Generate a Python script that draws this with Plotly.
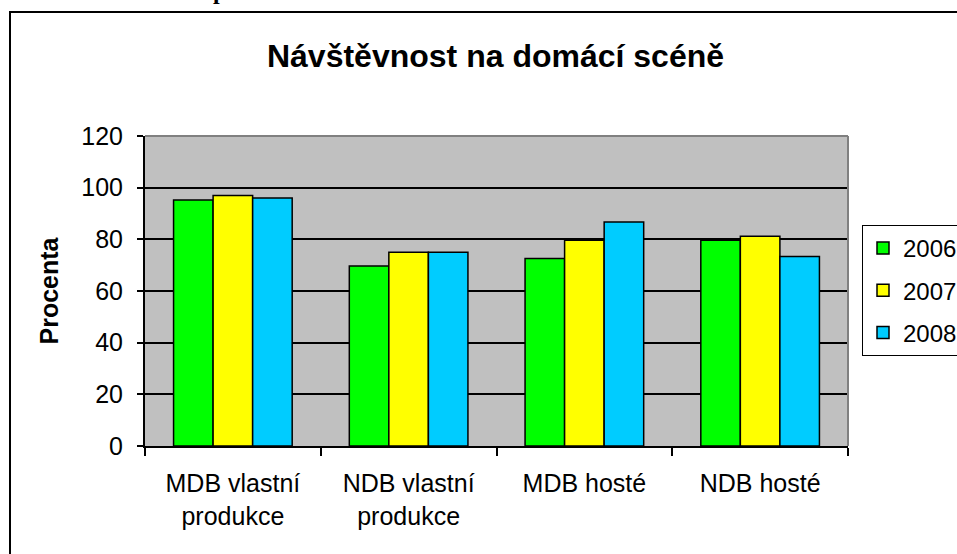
import plotly.graph_objects as go

categories = ["MDB vlastní<br>produkce", "NDB vlastní<br>produkce", "MDB hosté", "NDB hosté"]
years = ["2006", "2007", "2008"]
v2006 = [95.2, 69.7, 72.6, 79.6]
v2007 = [97.0, 75.0, 79.6, 81.2]
v2008 = [96.0, 75.0, 86.7, 73.4]
colors = ["#00ff00", "#ffff00", "#00ccff"]
series = [v2006, v2007, v2008]

W, H = 957, 554
L, R, T, B = 145, 848, 136, 446  # plot area in px

def px_x(x):
    return (x - L) / (R - L)

def px_y(y):
    return (B - y) / (B - T)

fig = go.Figure()
for name, vals, col in zip(years, series, colors):
    fig.add_trace(go.Bar(
        x=categories, y=vals, name=name, legendgroup=name,
        marker=dict(color=col, line=dict(color="black", width=1.5)),
    ))

font = "Arial, Liberation Sans, sans-serif"

fig.update_layout(
    width=W, height=H,
    margin=dict(l=L, r=W - R, t=T, b=H - B, autoexpand=False),
    paper_bgcolor="white",
    plot_bgcolor="#c0c0c0",
    barmode="group",
    bargap=0.325,
    bargroupgap=0,
    font=dict(family=font, size=25, color="black"),
    title=dict(
        text="<b>Návštěvnost na domácí scéně</b>",
        font=dict(family=font, size=32, color="black"),
        x=495.5 / W, xanchor="center", xref="container",
        y=1 - 56 / H, yanchor="middle", yref="container",
    ),
    legend=dict(
        x=px_x(862), xanchor="left",
        y=px_y(225), yanchor="top",
        bordercolor="black", borderwidth=1, bgcolor="white",
        font=dict(family=font, size=24, color="black"),
        tracegroupgap=8,
    ),
    xaxis=dict(
        showline=True, linecolor="black", linewidth=2,
        ticks="outside", tickson="boundaries", ticklen=8, tickwidth=1.5, tickcolor="black",
        showgrid=False,
        ticklabelstandoff=14,
        tickfont=dict(family=font, size=25, color="black"),
    ),
    yaxis=dict(
        range=[0, 120], dtick=20,
        showline=True, linecolor="black", linewidth=2,
        ticks="outside", ticklen=6, tickwidth=1.5, tickcolor="black",
        showgrid=True, gridcolor="black", gridwidth=1.5,
        zeroline=False,
        ticklabelstandoff=9,
        tickfont=dict(family=font, size=25, color="black"),
        title=dict(text="<b>Procenta</b>", font=dict(family=font, size=25, color="black"), standoff=16),
    ),
    showlegend=True,
)

shapes = [
    # plot area top and right borders (gray)
    dict(type="line", xref="paper", yref="paper", x0=0, x1=1, y0=1, y1=1,
         line=dict(color="#808080", width=2), layer="above"),
    dict(type="line", xref="paper", yref="paper", x0=1, x1=1, y0=0, y1=1,
         line=dict(color="#808080", width=2), layer="above"),
    # outer chart frame
    dict(type="rect", xref="paper", yref="paper",
         x0=px_x(10), x1=px_x(1100), y0=px_y(12), y1=px_y(700),
         line=dict(color="black", width=2), fillcolor="rgba(0,0,0,0)", layer="above"),
]
fig.update_layout(shapes=shapes)

# fragment of the document text above the chart (only its descender is visible)
fig.add_annotation(
    text="<b>p</b>", xref="paper", yref="paper",
    x=px_x(219), y=px_y(-9), xanchor="center", yanchor="middle",
    showarrow=False, font=dict(family="Liberation Serif, Times New Roman, serif", size=24, color="black"),
)

fig.write_html(
    "out.html",
    config={"displayModeBar": False},
    post_script="document.body.style.margin='0px';document.body.style.overflow='hidden';",
)
